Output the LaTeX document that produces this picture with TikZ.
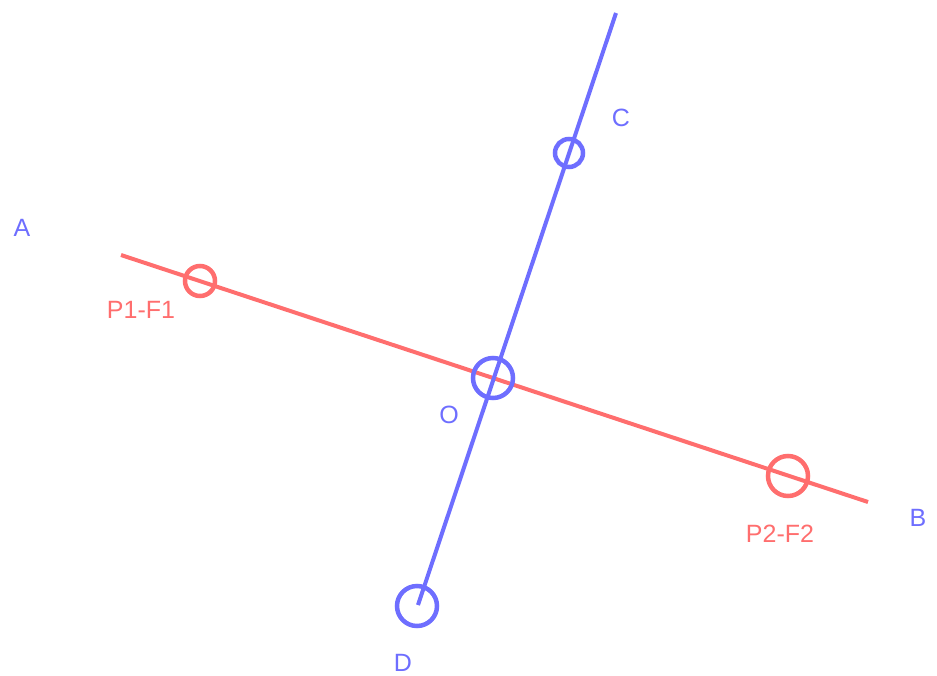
\documentclass[tikz,border=0pt]{standalone}
\usepackage{fontspec}
\setmainfont{Liberation Sans}
\definecolor{lred}{RGB}{255,110,110}
\definecolor{lblue}{RGB}{110,110,255}
\begin{document}
\begin{tikzpicture}[x=1pt,y=-1pt,
  redline/.style={draw=lred,line width=4pt},
  blueline/.style={draw=lblue,line width=4pt},
  redring/.style={draw=lred,line width=4.5pt,circle,inner sep=0pt},
  bluering/.style={draw=lblue,line width=4.5pt,circle,inner sep=0pt},
  redlab/.style={text=lred,font=\fontsize{25}{25}\selectfont,inner sep=0pt},
  bluelab/.style={text=lblue,font=\fontsize{25}{25}\selectfont,inner sep=0pt}]
\useasboundingbox (0,0) rectangle (937,675);
\coordinate (Aend) at (121,255);
\coordinate (Bend) at (868,502);
\coordinate (Cend) at (616,13);
\coordinate (Dend) at (418,605);
\draw[redline] (Aend) -- (Bend);
\draw[blueline] (Cend) -- (Dend);
\node[redring,minimum size=30pt] (p1) at (200,281) {};
\node[redring,minimum size=40pt] (p2) at (788,476) {};
\node[bluering,minimum size=28pt] (c) at (569,153) {};
\node[bluering,minimum size=40pt] (o) at (493,378) {};
\node[bluering,minimum size=40pt] (d) at (417,606) {};
\node[bluelab] (la) at (22,228) {A};
\node[bluelab] (lb) at (918,518) {B};
\node[bluelab] (lc) at (621,118) {C};
\node[bluelab] (ld) at (403,663) {D};
\node[bluelab] (lo) at (449,415) {O};
\node[redlab] (lp1) at (141,310) {P1-F1};
\node[redlab] (lp2) at (780,534) {P2-F2};
\end{tikzpicture}
\end{document}
